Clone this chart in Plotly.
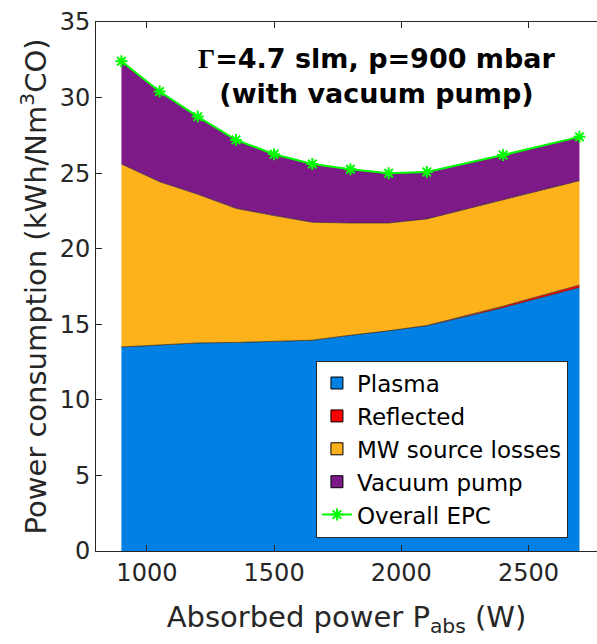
import plotly.graph_objects as go

power = [900, 1050, 1200, 1350, 1500, 1650, 1800, 1950, 2100, 2400, 2700]
plasma = [13.5, 13.65, 13.77, 13.8, 13.88, 13.95, 14.28, 14.57, 14.9, 16.1, 17.44]
reflected = [0, 0, 0, 0, 0, 0, 0, 0, 0.02, 0.1, 0.16]
mw_losses = [12.1, 10.78, 9.83, 8.87, 8.31, 7.8, 7.42, 7.13, 7.05, 7.04, 6.9]
vacuum = [6.8, 5.97, 5.14, 4.53, 4.06, 3.85, 3.56, 3.29, 3.11, 2.96, 2.9]
overall_epc = [32.4, 30.4, 28.74, 27.2, 26.25, 25.6, 25.26, 24.99, 25.08, 26.2, 27.4]

names = ["Plasma", "Reflected", "MW source losses", "Vacuum pump"]
series = [plasma, reflected, mw_losses, vacuum]
colors = ["#0080E3", "#FF0000", "#FDB21C", "#7E1A87"]

FONT = "DejaVu Sans, Liberation Sans, Arial, sans-serif"

fig = go.Figure()
for n, s, c in zip(names, series, colors):
    fig.add_trace(go.Scatter(x=power, y=s, name=n, mode="lines", stackgroup="one",
                             fillcolor=c, line=dict(color="#222222", width=0.6),
                             showlegend=False))
# legend swatches (filled boxes, as in the reference)
for n, c in zip(names, colors):
    fig.add_trace(go.Bar(x=[None], y=[None], name=n,
                         marker=dict(color=c, line=dict(color="black", width=1))))
fig.add_trace(go.Scatter(x=power, y=overall_epc, name="Overall EPC", mode="lines+markers",
                         line=dict(color="#00FF00", width=2),
                         marker=dict(symbol="asterisk-open", size=10,
                                     line=dict(color="#00FF00", width=2), color="#00FF00")))

axis_color = "#262626"
fig.update_layout(
    width=597, height=644,
    margin=dict(l=96, r=0, t=22, b=93),
    plot_bgcolor="white", paper_bgcolor="white",
    font=dict(family=FONT, color=axis_color),
    xaxis=dict(range=[800, 2769], tickvals=[1000, 1500, 2000, 2500],
               showline=True, linecolor=axis_color, linewidth=1, mirror="ticks",
               ticks="inside", ticklen=6, tickcolor=axis_color,
               showgrid=False, zeroline=False, tickfont=dict(size=24),
               title=dict(text="Absorbed power P<sub>abs</sub> (W)", font=dict(size=29), standoff=20)),
    yaxis=dict(range=[0, 35], tickvals=[0, 5, 10, 15, 20, 25, 30, 35],
               showline=True, linecolor=axis_color, linewidth=1,
               ticks="inside", ticklen=6, tickcolor=axis_color,
               showgrid=False, zeroline=False, tickfont=dict(size=24),
               title=dict(text="Power consumption (kWh/Nm<sup>3</sup>CO)", font=dict(size=29), standoff=4)),
    legend=dict(x=0.439, y=0.36, xanchor="left", yanchor="top", traceorder="normal",
                bgcolor="white", bordercolor=axis_color, borderwidth=1,
                font=dict(size=23, color="black"), itemwidth=30),
    showlegend=True,
)

fig.add_annotation(
    text="<b><span style='font-family:Liberation Serif, Times New Roman, serif'>Γ</span>=4.7 slm, p=900 mbar</b><br><b>(with vacuum pump)</b>",
    xref="paper", yref="paper", x=0.561, y=0.898, xanchor="center", yanchor="middle",
    showarrow=False, font=dict(size=27, color="black"), align="center")

fig.write_html("out.html", config={"displayModeBar": False},
               post_script="document.body.style.margin='0';document.body.style.overflow='hidden';")
